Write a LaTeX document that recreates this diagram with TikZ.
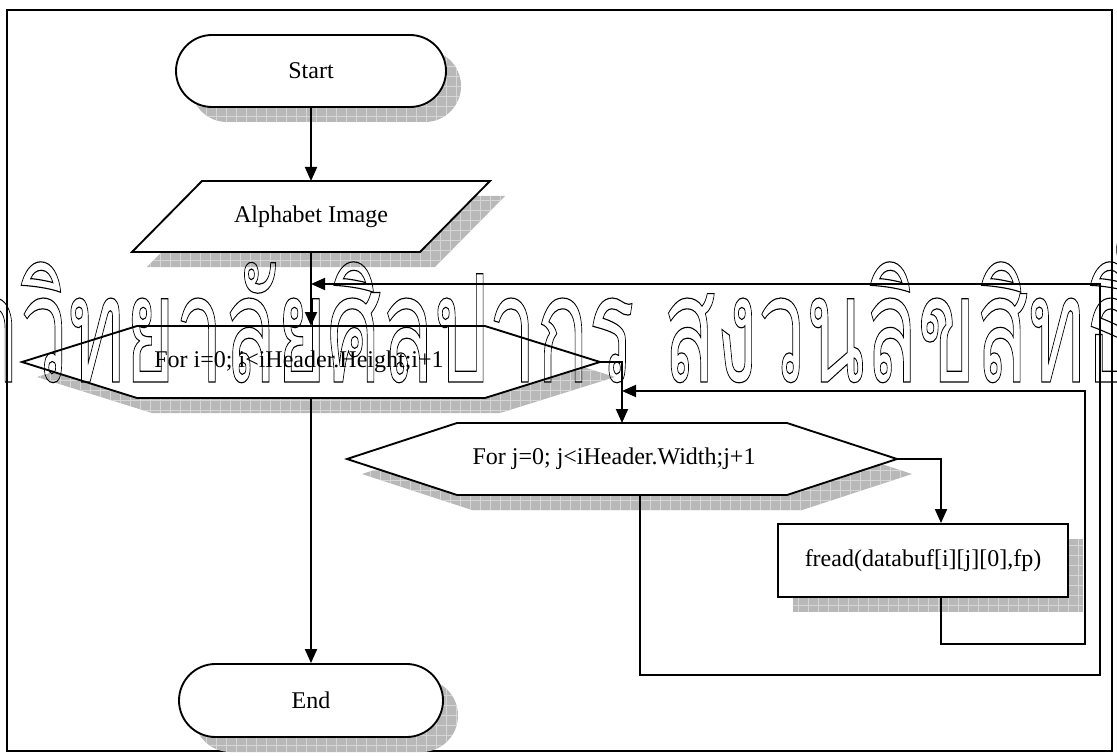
\documentclass[tikz,border=0pt]{standalone}
\usepackage{fontspec}
\usepackage{graphicx}
\setmainfont{Liberation Serif}
\newfontfamily\wmfont[Script=Thai]{Loma}
\usetikzlibrary{arrows.meta,calc,shapes.misc}

\definecolor{shadowfill}{gray}{0.72}
\definecolor{shadowlines}{gray}{0.84}
\definecolor{wmgray}{gray}{0.70}

% watermark text, set large and measured before scaling
\newsavebox\wmpre
\newsavebox\wmmid
\newsavebox\wmfull
\newsavebox\wmbody
\sbox\wmpre{\wmfont\fontsize{100}{100}\selectfont มหา}
\sbox\wmmid{\wmfont\fontsize{100}{100}\selectfont วิทยาลัยศิลปากร สงวนลิขสิท}
\sbox\wmfull{\wmfont\fontsize{100}{100}\selectfont มหาวิทยาลัยศิลปากร สงวนลิขสิทธิ์}
\sbox\wmbody{\wmfont\fontsize{100}{100}\selectfont ก}

% hollow (stroked) glyphs
\newcommand\outlinetext[2]{\special{pdf:literal direct 1 Tr #1 w}#2\special{pdf:literal direct 0 Tr}}

% hexagon around an anchor node: node, chamfer, offset, style
\newcommand\hexshape[4]{%
  \path[#4] ($(#1.west)+(#3)$) -- ($(#1.north west)+(#2,0)+(#3)$)
    -- ($(#1.north east)+(-#2,0)+(#3)$) -- ($(#1.east)+(#3)$)
    -- ($(#1.south east)+(-#2,0)+(#3)$) -- ($(#1.south west)+(#2,0)+(#3)$) -- cycle;}
% parallelogram around an anchor node: node, slant, offset, style
\newcommand\slantshape[4]{%
  \path[#4] ($(#1.north west)+(#2,0)+(#3)$) -- ($(#1.north east)+(#3)$)
    -- ($(#1.south east)+(-#2,0)+(#3)$) -- ($(#1.south west)+(#3)$) -- cycle;}

\begin{document}
\begin{tikzpicture}[x=0.75pt, y=-0.75pt, line width=1.4pt,
  every node/.style={font=\fontsize{18}{21}\selectfont},
  anchorbox/.style={rectangle, draw=none, inner sep=0pt, outer sep=0pt},
  shapeline/.style={draw=black, fill=white, line width=1.4pt},
  shadowfx/.style={fill=shadowfill, draw=none,
    path picture={\draw[shadowlines, line width=0.5pt, step=7.5pt]
      (path picture bounding box.south west) grid (path picture bounding box.north east);}},
  term/.style={rounded rectangle, inner sep=0pt, minimum height=54pt},
  procbox/.style={rectangle, inner sep=0pt, minimum width=217.5pt, minimum height=54.75pt},
  lbl/.style={inner sep=0pt},
  arr/.style={draw=black, line width=1.4pt, -{Triangle[length=10.5pt, width=9pt]}}]
\useasboundingbox (0,0) rectangle (1117,756);
\fill[white] (0,0) rectangle (1117,756);

% outer frame
\draw[line width=1.4pt] (7,10) rectangle (1112,751);

% anchor boxes of the drawn shapes
\node[anchorbox, minimum width=268.5pt, minimum height=53.25pt] (input) at (311,216.5) {};
\node[anchorbox, minimum width=433.5pt, minimum height=54pt] (hexA) at (311,362) {};
\node[anchorbox, minimum width=412.5pt, minimum height=54pt] (hexB) at (622,459) {};

% shadows
\node[term, shadowfx, minimum width=202.5pt] (startshadow) at (326,86) {};
\slantshape{input}{70}{15,15}{shadowfx}
\hexshape{hexA}{115}{15,15}{shadowfx}
\hexshape{hexB}{110}{15,15}{shadowfx}
\node[procbox, shadowfx] (freadshadow) at (938,575.5) {};
\node[term, shadowfx, minimum width=198pt, minimum height=54.75pt] (stopshadow) at (326,715.5) {};

% shapes
\node[term, shapeline, minimum width=202.5pt] (start) at (311,71) {Start};
\slantshape{input}{70}{0,0}{shapeline}
\node[lbl] (inputtext) at (input) {Alphabet Image};
\hexshape{hexA}{115}{0,0}{shapeline}
\node[lbl] (hexAtext) at (299,362) {For i=0; i<iHeader.Height;i+1};
\hexshape{hexB}{110}{0,0}{shapeline}
\node[lbl] (hexBtext) at (614,459) {For j=0; j<iHeader.Width;j+1};
\node[procbox, shapeline] (fread) at (923,560.5) {fread(databuf[i][j][0],fp)};
\node[term, shapeline, minimum width=198pt, minimum height=54.75pt] (stop) at (311,700.5) {End};

% connectors
\coordinate (freadin) at ($(fread.north)+(18,0)$);
\coordinate (freadout) at ($(fread.south)+(18,0)$);
\coordinate (hexBout) at ($(hexB.south)+(18,0)$);
\coordinate (innerSE) at (1085,644);
\coordinate (innerNE) at (1085,391);
\coordinate (outerSE) at (1100,675);
\coordinate (outerNE) at (1100,284);

\draw[arr] (start.south) -- (input.north);
\draw[arr] (input.south) -- (input.south |- hexA.north);
\draw[arr] (hexA.east) -| (hexB.north);
\draw[arr] (hexB.east) -| (freadin);
\draw[arr] (freadout) |- (innerSE) -- (innerNE) -- (innerNE -| hexB.north);
\draw[arr] (hexBout) |- (outerSE) -- (outerNE) -- (outerNE -| input.south);
\draw[arr] (hexA.south) -- (hexA.south |- stop.north);

% watermark
\pgfmathsetmacro\wmsx{1065*0.75/\the\wd\wmmid}
\pgfmathsetmacro\wmsy{84*0.75/\the\ht\wmbody}
\pgfmathsetmacro\wmx{20-\the\wd\wmpre*\wmsx/0.75}
\pgfmathsetmacro\wmlw{0.65/sqrt(\wmsx*\wmsy)}
\begin{scope}
\clip (0,0) rectangle (1117,756);
\node[anchor=base west, inner sep=0pt, outer sep=0pt, text=wmgray] (watermark) at (\wmx,382)
  {\outlinetext{\wmlw}{\scalebox{\wmsx}[\wmsy]{\usebox\wmfull}}};
\end{scope}
\end{tikzpicture}
\end{document}
